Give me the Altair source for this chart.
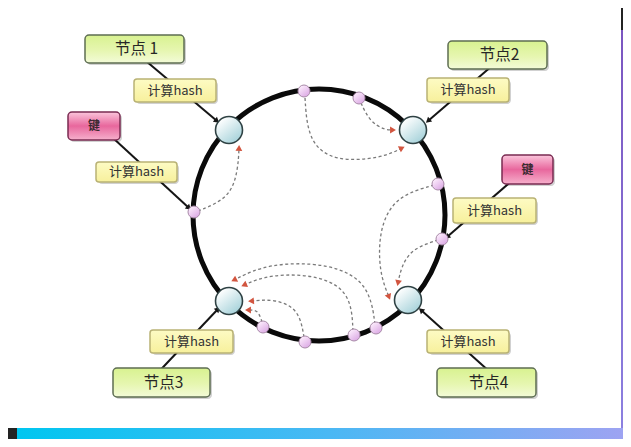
import math
import altair as alt
import pandas as pd

# ---------------- data (screen-pixel coordinates) ----------------
ring_cx = [319]
ring_cy = [215]

node_x = [229, 413, 229, 408]
node_y = [130, 130, 301, 300]

dot_x = [304, 359, 438, 442, 194, 263, 305, 354, 376]
dot_y = [91, 98, 184, 239, 212, 327, 342, 335, 328]

# dashed "moves clockwise to next node" arcs
arc_x = [
    [198, 230, 238, 239],
    [305, 308, 335, 382, 402],
    [361, 370, 385, 393],
    [434, 396, 379, 379, 389],
    [438, 411, 401, 398],
    [262, 259, 255, 248],
    [304, 299, 275, 251],
    [353, 351, 320, 270, 244],
    [375, 369, 330, 268, 234],
]
arc_y = [
    [211, 198, 170, 148],
    [98, 142, 162, 158, 148],
    [103, 122, 130, 130],
    [185, 196, 228, 272, 297],
    [240, 249, 268, 283],
    [322, 313, 310, 310],
    [337, 309, 299, 301],
    [331, 293, 275, 274, 285],
    [324, 283, 263, 263, 280],
]

# solid black connectors (label -> hash point)
link_x1 = [133, 500, 100, 522, 150, 500]
link_y1 = [50, 59, 126, 172, 381, 381]
link_x2 = [217, 428, 189, 447, 218, 421]
link_y2 = [121, 121, 208, 237, 309, 310]

node_labels = ["节点 1", "节点2", "节点3", "节点4"]
node_box_x1 = [85, 448, 113, 437]
node_box_x2 = [184, 547, 210, 536]
node_box_y1 = [35, 41, 368, 368]
node_box_y2 = [63, 69, 397, 397]

hash_labels = ["计算hash"] * 6
hash_box_x1 = [134, 427, 96, 453, 150, 427]
hash_box_x2 = [216, 509, 177, 536, 233, 509]
hash_box_y1 = [79, 78, 162, 198, 330, 330]
hash_box_y2 = [102, 102, 182, 223, 353, 353]

key_labels = ["键", "键"]
key_box_x1 = [68, 502]
key_box_x2 = [120, 553]
key_box_y1 = [112, 155]
key_box_y2 = [140, 184]

# backdrop pieces of the screenshot
panel = dict(x1=[6], x2=[621], y1=[0], y2=[428])
bottom_bar = dict(x1=[17], x2=[640], y1=[428], y2=[460])
side_bar = dict(x1=[621], x2=[640], y1=[30], y2=[428])

# ---------------- helpers ----------------
W, H = 615, 431
XS = alt.Scale(domain=[8, 8 + W], nice=False, zero=False)
YS = alt.Scale(domain=[8, 8 + H], nice=False, zero=False, reverse=True)


def X(f):
    return alt.X(f, type="quantitative", scale=XS, axis=None)


def Y(f):
    return alt.Y(f, type="quantitative", scale=YS, axis=None)


def rects(x1, x2, y1, y2, **extra):
    d = dict(x1=x1, x2=x2, y1=y1, y2=y2)
    d.update(extra)
    return pd.DataFrame(d)


def vgrad(stops, horizontal=False):
    return alt.Gradient(
        gradient="linear",
        stops=[alt.GradientStop(offset=o, color=c) for o, c in stops],
        x1=0, y1=0, x2=(1 if horizontal else 0), y2=(0 if horizontal else 1),
    )


def rect_layer(df, **mark):
    return alt.Chart(df).mark_rect(clip=True, **mark).encode(
        x=X("x1"), x2=alt.X2("x2"), y=Y("y1"), y2=alt.Y2("y2")
    )


def heading(dx, dy):
    return (math.degrees(math.atan2(dx, -dy)) + 360) % 360


def diam(d):
    # Vega circle symbol: diameter = sqrt(size)
    return d * d


# ---------------- layers ----------------
layers = []

layers.append(rect_layer(pd.DataFrame(panel), fill="#ffffff"))
layers.append(rect_layer(pd.DataFrame(bottom_bar),
                         fill=vgrad([(0, "#00c6f0"), (0.5, "#4ab8f4"), (1, "#a2a2f2")], horizontal=True)))
layers.append(rect_layer(pd.DataFrame(side_bar),
                         fill=vgrad([(0, "#7b55c0"), (1, "#8c80e0")])))

# ring
layers.append(
    alt.Chart(pd.DataFrame(dict(x=ring_cx, y=ring_cy)))
    .mark_point(shape="circle", filled=False, size=diam(252),
                stroke="#0a0a0a", strokeWidth=5, opacity=1)
    .encode(x=X("x"), y=Y("y"))
)

# dashed arcs
arc_rows = []
head_rows = []
for i, (xs_, ys_) in enumerate(zip(arc_x, arc_y)):
    for k, (a, b) in enumerate(zip(xs_, ys_)):
        arc_rows.append(dict(cid=i, k=k, x=a, y=b))
    head_rows.append(dict(x=xs_[-1], y=ys_[-1],
                          ang=heading(xs_[-1] - xs_[-2], ys_[-1] - ys_[-2])))
layers.append(
    alt.Chart(pd.DataFrame(arc_rows))
    .mark_line(interpolate="basis", strokeDash=[3, 2.5], color="#7a7a7a", strokeWidth=1.3)
    .encode(x=X("x"), y=Y("y"), detail="cid:N", order="k:Q")
)

# black connectors
links = pd.DataFrame(dict(x1=link_x1, y1=link_y1, x2=link_x2, y2=link_y2))
layers.append(
    alt.Chart(links).mark_rule(color="#151515", strokeWidth=2)
    .encode(x=X("x1"), y=Y("y1"), x2=alt.X2("x2"), y2=alt.Y2("y2"))
)
links["ang"] = [heading(b - a, d - c) for a, b, c, d in zip(link_x1, link_x2, link_y1, link_y2)]
layers.append(
    alt.Chart(links).mark_point(shape="triangle-up", filled=True, size=40, color="#151515", opacity=1)
    .encode(x=X("x2"), y=Y("y2"), angle=alt.Angle("ang:Q", scale=None))
)

# node circles on the ring
layers.append(
    alt.Chart(pd.DataFrame(dict(x=node_x, y=node_y)))
    .mark_point(shape="circle", filled=True, size=diam(27), opacity=1,
                fill=alt.Gradient(gradient="linear",
                                  stops=[alt.GradientStop(offset=0, color="#ffffff"),
                                         alt.GradientStop(offset=1, color="#9ccdd6")],
                                  x1=0.2, y1=0.1, x2=0.9, y2=1),
                stroke="#2f4244", strokeWidth=1.6)
    .encode(x=X("x"), y=Y("y"))
)

# red arrowheads
layers.append(
    alt.Chart(pd.DataFrame(head_rows))
    .mark_point(shape="triangle-up", filled=True, size=46, color="#d2553f", opacity=1)
    .encode(x=X("x"), y=Y("y"), angle=alt.Angle("ang:Q", scale=None))
)

# key hash points
layers.append(
    alt.Chart(pd.DataFrame(dict(x=dot_x, y=dot_y)))
    .mark_point(shape="circle", filled=True, size=diam(12), opacity=1,
                fill=alt.Gradient(gradient="linear",
                                  stops=[alt.GradientStop(offset=0, color="#fcecfc"),
                                         alt.GradientStop(offset=1, color="#d8a2e2")],
                                  x1=0.2, y1=0.1, x2=0.9, y2=1),
                stroke="#a88aa8", strokeWidth=1)
    .encode(x=X("x"), y=Y("y"))
)

# label boxes with a soft shadow
def shadow(x1, x2, y1, y2):
    return rect_layer(rects([a + 2 for a in x1], [a + 2 for a in x2],
                            [a + 2 for a in y1], [a + 2 for a in y2]),
                      fill="#000000", opacity=0.18, cornerRadius=4)


layers.append(shadow(node_box_x1, node_box_x2, node_box_y1, node_box_y2))
layers.append(shadow(hash_box_x1, hash_box_x2, hash_box_y1, hash_box_y2))
layers.append(shadow(key_box_x1, key_box_x2, key_box_y1, key_box_y2))

layers.append(rect_layer(rects(node_box_x1, node_box_x2, node_box_y1, node_box_y2),
                         fill=vgrad([(0, "#d8f290"), (0.55, "#e6f6b0"), (1, "#f3fbd8")]),
                         stroke="#5e6e52", strokeWidth=1.5, cornerRadius=4))
layers.append(rect_layer(rects(hash_box_x1, hash_box_x2, hash_box_y1, hash_box_y2),
                         fill=vgrad([(0, "#fdfbc4"), (1, "#f7f09c")]),
                         stroke="#b9b274", strokeWidth=1.5, cornerRadius=3))
layers.append(rect_layer(rects(key_box_x1, key_box_x2, key_box_y1, key_box_y2),
                         fill=vgrad([(0, "#fbc6dc"), (0.5, "#e8679d"), (1, "#f6b0cc")]),
                         stroke="#7a2b52", strokeWidth=1.5, cornerRadius=4))

# texts
def text_layer(labels, x1, x2, y1, y2, size, color, weight="normal", dx=0):
    df = pd.DataFrame(dict(t=labels,
                           x=[(a + b) / 2 for a, b in zip(x1, x2)],
                           y=[(a + b) / 2 for a, b in zip(y1, y2)]))
    return alt.Chart(df).mark_text(font="Noto Sans CJK SC", fontSize=size, color=color,
                                   fontWeight=weight, align="center", baseline="middle", dx=dx) \
        .encode(x=X("x"), y=Y("y"), text="t:N")


layers.append(text_layer(node_labels, node_box_x1, node_box_x2, node_box_y1, node_box_y2,
                         15.5, "#262626", dx=2))
layers.append(text_layer(hash_labels, hash_box_x1, hash_box_x2, hash_box_y1, hash_box_y2,
                         13, "#333333"))
layers.append(text_layer(key_labels, key_box_x1, key_box_x2, key_box_y1, key_box_y2,
                         12, "#3a2a30", weight="bold"))

chart = (
    alt.layer(*layers)
    .properties(width=W, height=H, padding=0, autosize="none", background="#232323")
    .configure_view(stroke=None)
)

chart.save("out.html", embed_options={"renderer": "svg", "actions": False})
